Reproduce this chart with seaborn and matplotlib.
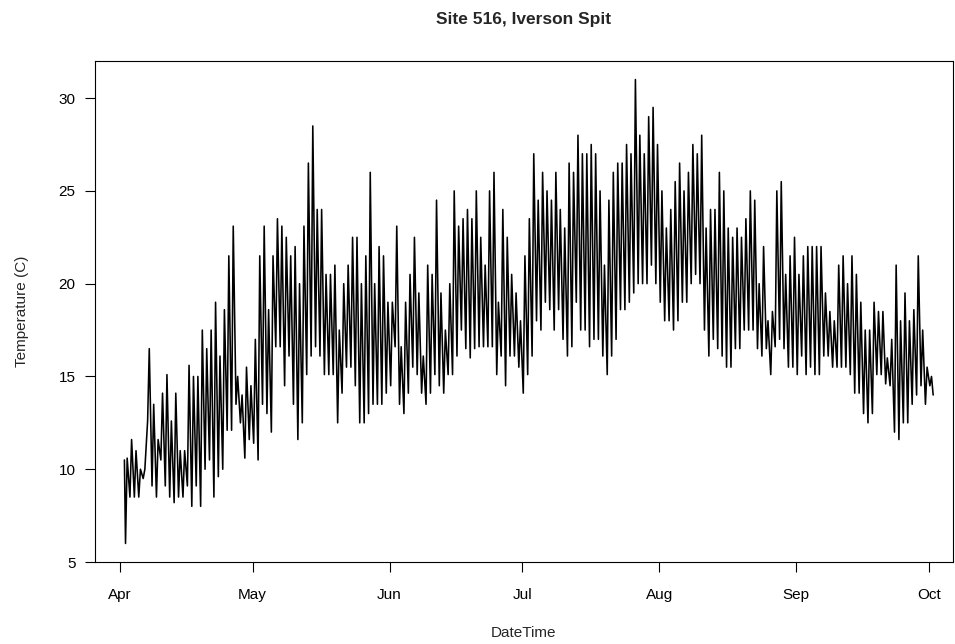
import matplotlib
matplotlib.use('Agg')
import matplotlib.pyplot as plt
import pandas as pd
import seaborn as sns

# lecturas diarias estimadas del grafico (Apr 2 -> Oct 2), temperatura en C
primer_dia = '2019-04-02'
temp_inicio = 10.5
temp_final = 14.0

maximos = [
    10.6, 11.6, 11.0, 10.0, 10.0, 16.5, 13.5, 11.6, 14.1, 15.1, 12.6, 14.1, 11.0, 11.0, 15.6,
    15.0, 15.0, 17.5, 16.5, 17.5, 19.0, 16.1, 18.6, 21.5, 23.1, 15.0, 14.0, 15.5, 14.5, 17.0,
    21.5, 23.1, 18.6, 21.5, 23.5, 23.1, 22.5, 21.5, 22.0, 20.0, 23.1, 26.5, 28.5, 24.0, 24.0, 20.5,
    20.5, 21.0, 17.5, 20.0, 21.0, 22.5, 22.5, 20.0, 21.5, 26.0, 20.0, 22.0, 21.5, 19.0, 19.0, 23.1,
    16.6, 19.0, 20.5, 22.5, 19.5, 16.1, 21.0, 20.5, 24.5, 19.5, 17.5, 20.0, 25.0, 23.1, 23.5, 24.0,
    23.5, 25.0, 22.5, 21.0, 25.0, 26.0, 19.0, 24.0, 22.5, 20.5, 19.5, 18.0, 21.5, 23.5, 27.0, 24.5,
    26.0, 25.0, 24.5, 26.0, 24.0, 23.0, 26.5, 26.0, 28.0, 27.0, 27.0, 27.5, 27.0, 25.0, 21.0, 24.5,
    26.0, 26.5, 26.5, 27.5, 27.0, 31.0, 28.0, 27.0, 29.0, 29.5, 27.5, 25.0, 23.0, 24.0, 25.5, 26.5,
    25.0, 26.0, 27.5, 27.0, 28.0, 23.0, 24.0, 24.0, 26.0, 25.0, 23.0, 22.5, 23.0, 22.5, 23.5,
    25.0, 24.5, 20.0, 22.0, 18.0, 18.5, 25.0, 25.5, 20.5, 21.5, 22.5, 20.5, 21.5, 22.0, 22.0, 22.0,
    22.0, 19.5, 18.5, 18.0, 21.0, 21.5, 20.0, 21.5, 20.5, 19.0, 17.5, 17.5, 19.0, 18.5, 18.5, 16.0,
    17.0, 21.0, 18.0, 19.5, 18.0, 18.6, 21.5, 17.5, 15.5, 15.0,
]

minimos = [
    6.0, 8.5, 8.5, 8.5, 9.5, 12.6, 9.1, 8.5, 10.5, 9.1, 8.5, 8.2, 8.5, 8.5, 9.1,
    8.0, 9.1, 8.0, 10.0, 10.5, 8.5, 9.6, 10.0, 12.1, 12.1, 13.5, 12.5, 10.6, 11.6, 11.4,
    10.5, 13.5, 13.0, 12.0, 16.6, 16.6, 14.5, 16.1, 13.5, 11.6, 12.5, 15.1, 16.1, 16.6, 16.1, 15.1,
    15.1, 15.1, 12.5, 14.1, 15.5, 15.5, 14.5, 12.5, 12.5, 13.0, 13.5, 13.5, 13.5, 14.1, 14.5, 16.6,
    13.5, 13.0, 14.1, 15.5, 15.1, 14.1, 13.5, 14.1, 15.1, 14.5, 14.1, 15.1, 15.1, 16.1, 17.5, 16.5,
    16.0, 16.5, 16.6, 16.6, 16.6, 16.6, 15.1, 16.1, 14.5, 16.1, 16.1, 15.5, 14.1, 15.1, 16.1, 18.0,
    17.5, 19.0, 18.6, 17.5, 18.6, 17.0, 16.1, 16.6, 19.0, 17.5, 17.5, 16.6, 17.0, 17.0, 16.1, 15.1,
    16.1, 17.0, 18.6, 18.6, 19.0, 19.5, 20.0, 20.0, 20.0, 21.0, 20.0, 19.0, 18.0, 18.0, 17.5, 18.0,
    19.0, 19.0, 20.0, 20.5, 20.0, 17.5, 16.1, 17.0, 16.5, 16.1, 15.5, 15.5, 16.5, 16.5, 17.5,
    17.5, 17.5, 16.5, 16.1, 16.5, 15.1, 16.6, 17.0, 16.5, 15.5, 15.5, 15.1, 16.1, 15.1, 15.5, 15.1,
    15.1, 16.1, 16.1, 15.5, 15.5, 15.5, 15.5, 15.1, 14.1, 14.1, 13.0, 12.5, 13.0, 15.1, 15.1, 14.6,
    14.5, 12.0, 11.6, 12.5, 12.5, 13.5, 14.0, 14.5, 13.5, 14.5,
]

meses = ['Apr', 'May', 'Jun', 'Jul', 'Aug', 'Sep', 'Oct']
valores_y = [5, 10, 15, 20, 25, 30]


def armar_serie():
    """
    Arma la serie temporal: minimo por la manana, maximo por la tarde.
    """
    dias = pd.date_range(primer_dia, periods=len(maximos), freq='D')
    partes = [
        pd.DataFrame({'DateTime': [dias[0]], 'Temperature': [temp_inicio]}),
        pd.DataFrame({'DateTime': dias + pd.Timedelta(hours=6), 'Temperature': minimos}),
        pd.DataFrame({'DateTime': dias + pd.Timedelta(hours=15), 'Temperature': maximos}),
        pd.DataFrame({'DateTime': [dias[-1] + pd.Timedelta(days=1)], 'Temperature': [temp_final]}),
    ]
    return pd.concat(partes).sort_values('DateTime').reset_index(drop=True)


def graficar_temperatura(df):
    sns.set_style('ticks')
    plt.rcParams['font.family'] = ['Liberation Sans', 'DejaVu Sans']

    fig = plt.figure(figsize=(9.55, 6.44), dpi=100)
    ax = fig.add_axes([0.0995, 0.1273, 0.898, 0.778])
    sns.lineplot(data=df, x='DateTime', y='Temperature', color='black',
                 linewidth=1.15, estimator=None, ax=ax)

    inicio_mes = pd.Timestamp('2019-04-01')
    ax.set_xlim(inicio_mes - pd.Timedelta(days=5.65), inicio_mes + pd.Timedelta(days=188.4))
    ax.set_ylim(5, 32)

    ticks_x = pd.date_range(inicio_mes, periods=len(meses), freq='MS')
    ax.set_xticks(ticks_x)
    ax.set_xticklabels(meses)
    ax.set_yticks(valores_y)
    ax.set_yticklabels([str(v) for v in valores_y])

    for lado in ax.spines.values():
        lado.set_visible(True)
        lado.set_color('black')
        lado.set_linewidth(0.8)
    ax.tick_params(axis='both', direction='out', length=7, width=0.8,
                   colors='black', labelsize=11)
    ax.tick_params(axis='x', pad=12)
    ax.tick_params(axis='y', pad=7)

    ax.set_xlabel('DateTime', fontsize=11)
    ax.set_ylabel('Temperature (C)', fontsize=11)
    ax.xaxis.set_label_coords(0.5, -0.142)
    ax.xaxis.label.set_va('center')
    ax.yaxis.set_label_coords(-0.085, 0.5)
    ax.yaxis.label.set_va('center')

    ax.set_title('Site 516, Iverson Spit', fontsize=12.5, fontweight='bold',
                 y=1.082, pad=0, va='center')
    fig.savefig('out.png', dpi=100)


graficar_temperatura(armar_serie())
